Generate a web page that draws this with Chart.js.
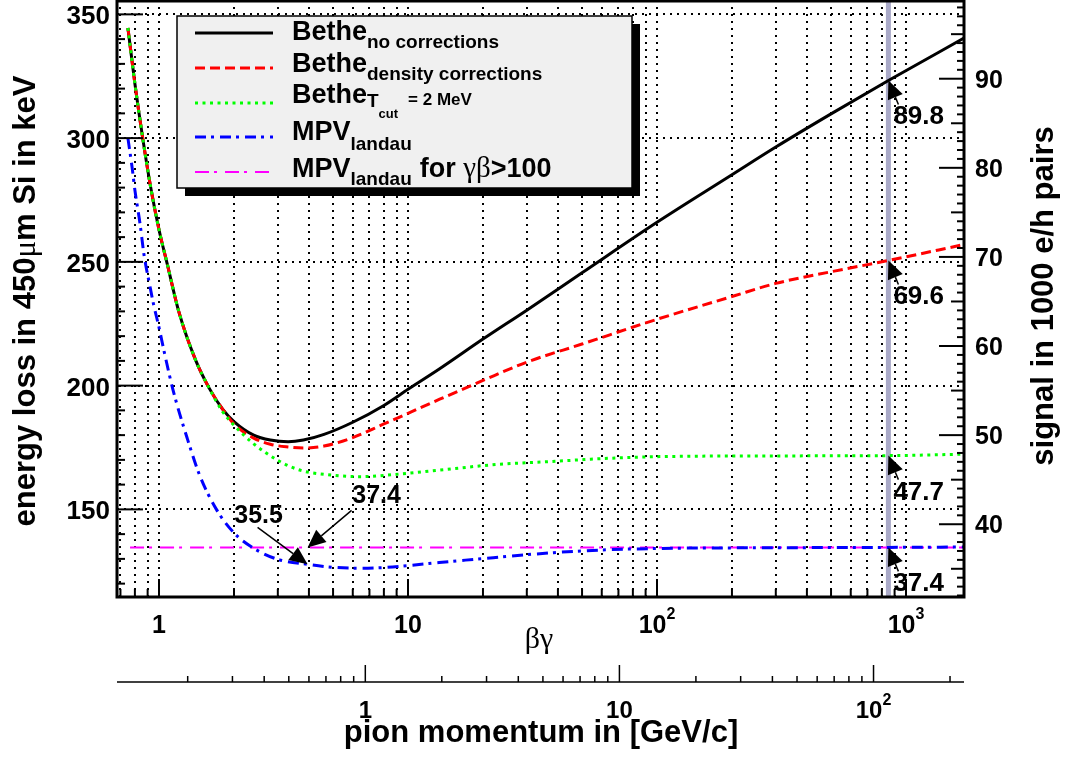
<!DOCTYPE html>
<html>
<head>
<meta charset="utf-8">
<title>Energy loss of pions in silicon</title>
<script src="https://cdn.jsdelivr.net/npm/chart.js@4.4.1/dist/chart.umd.min.js"></script>
<style>
  html, body { margin: 0; padding: 0; background: #fff; }
  #box { width: 1066px; height: 757px; }
</style>
</head>
<body>
<div id="box"><canvas id="dedx"></canvas></div>
<script>
// beta*gamma sample points and energy loss (keV) in 450 um of silicon
const bgBethe = [0.75, 0.8, 0.86, 0.93, 1.0, 1.08, 1.2, 1.4, 1.59, 1.8, 2.0, 2.4, 2.8, 3.3, 3.8, 4.6, 6.0, 8.0, 10, 13.4, 20, 30, 50, 100, 200, 300, 500, 850, 1710];
const betheNoCorr = [344.5, 322, 300, 279, 263, 249, 230, 210.5, 199, 190.5, 185.5, 180, 178, 177.3, 178, 180.3, 185.2, 192, 198.5, 206.8, 218.8, 230.5, 245.6, 266, 285.2, 296.4, 309.8, 323.28, 340.4];
const betheDensity = [344.5, 322, 300, 279, 263, 249, 230, 210.5, 199, 190.5, 184.5, 178.8, 176.3, 175.2, 174.8, 175.6, 179, 184.5, 188.8, 194.5, 202.1, 209.5, 216.8, 226.8, 236, 241.3, 246, 250.56, 257];

const bgTcut = [0.75, 0.8, 0.86, 0.93, 1.0, 1.08, 1.2, 1.4, 1.59, 1.8, 2.0, 2.4, 3.0, 3.7, 5.0, 6.4, 9.3, 15, 23, 37, 60, 100, 300, 850, 1710];
const betheTcut = [344.5, 322, 300, 279, 263, 249, 230, 210.5, 199, 189.5, 184, 176.5, 169.8, 165.8, 163.8, 163.2, 164.3, 166.4, 168.2, 169.3, 170.5, 171.3, 171.6, 171.72, 172.3];

const bgLandau = [0.75, 0.78, 0.8, 0.84, 0.87, 0.92, 0.95, 1.0, 1.05, 1.14, 1.3, 1.46, 1.7, 2.0, 2.4, 3.0, 3.95, 5.0, 6.5, 8.0, 10, 13, 17, 22, 37, 60, 100, 300, 850, 1710];
const mpvLandau = [300, 288, 279, 265, 253, 240, 233, 223.5, 213.5, 198, 178.5, 163.5, 150, 140.5, 134.3, 129.8, 127.8, 126.6, 126.2, 126.5, 127.3, 128.4, 129.5, 130.5, 132.4, 133.6, 134.2, 134.5, 134.64, 134.8];

const bgHigh = [0.765, 1710];
const mpvHigh = [134.64, 134.64];

// 120 GeV/c pion beam
const bgBeam = 850;
// signals (1000 e/h pairs) marked at the beam line, top to bottom
const beamSignals = [89.8, 69.6, 47.7, 37.4];
// landau minimum and plateau value near the minimum
const minBG = 3.95;
const minSignals = [35.5, 37.4];

const keVPerKPair = 3.6;
const X_RANGE = [0.678, 1710];
const Y_RANGE = [114.6, 355.4];
const P_RANGE = [0.1054, 227];
const yMajor = [150, 200, 250, 300, 350];
const y2Major = [40, 50, 60, 70, 80, 90];

const SANS = '"Liberation Sans", Arial, Helvetica, sans-serif';
const SERIF = '"Liberation Serif", "Times New Roman", serif';
const bold = (px) => 'bold ' + px + 'px ' + SANS;
const serif = (px) => px + 'px ' + SERIF;

const STYLES = {
  none:    { color: '#000000', width: 3, dash: [] },
  density: { color: '#ff0000', width: 3, dash: [10, 5] },
  tcut:    { color: '#00ff00', width: 3, dash: [3, 4.5] },
  landau:  { color: '#0000ff', width: 3, dash: [11, 5, 3, 6] },
  high:    { color: '#ff00ff', width: 2, dash: [14, 5, 3, 8] }
};

const pts = (xs, ys) => xs.map((v, i) => ({ x: v, y: ys[i] }));

function logTicks(min, max) {
  const out = [];
  for (let e = Math.floor(Math.log10(min)); e <= Math.ceil(Math.log10(max)); e++) {
    for (let k = 1; k <= 9; k++) {
      const v = k * Math.pow(10, e);
      if (v >= min && v <= max) out.push({ v, major: k === 1, e });
    }
  }
  return out;
}

// "10" with a raised exponent, centred on cx
function powLabel(ctx, e, cx, base, size, supSize, supRise) {
  if (e <= 1) {
    ctx.font = bold(size);
    ctx.textAlign = 'center';
    ctx.fillText(e === 0 ? '1' : '10', cx, base);
    return;
  }
  ctx.font = bold(size);
  const w1 = ctx.measureText('10').width;
  ctx.font = bold(supSize);
  const w2 = ctx.measureText(String(e)).width;
  const x0 = cx - (w1 + w2) / 2;
  ctx.textAlign = 'left';
  ctx.font = bold(size);
  ctx.fillText('10', x0, base);
  ctx.font = bold(supSize);
  ctx.fillText(String(e), x0 + w1, base - supRise);
}

function richText(ctx, x, parts) {
  ctx.textAlign = 'left';
  for (const [text, font, by, gap] of parts) {
    x += gap || 0;
    ctx.font = font;
    ctx.fillText(text, x, by);
    x += ctx.measureText(text).width;
  }
  return x;
}

function rotatedText(ctx, cx, cy, parts) {
  ctx.save();
  ctx.translate(cx, cy);
  ctx.rotate(-Math.PI / 2);
  let w = 0;
  for (const [t, f] of parts) { ctx.font = f; w += ctx.measureText(t).width; }
  let xx = -w / 2;
  ctx.textAlign = 'left';
  for (const [t, f] of parts) { ctx.font = f; ctx.fillText(t, xx, 0); xx += ctx.measureText(t).width; }
  ctx.restore();
}

function arrow(ctx, x0, y0, x1, y1) {
  const ang = Math.atan2(y1 - y0, x1 - x0);
  const c = Math.cos(ang), s = Math.sin(ang);
  const hl = 18, hw = 8;
  ctx.setLineDash([]);
  ctx.lineWidth = 1.5;
  ctx.beginPath();
  ctx.moveTo(x0, y0);
  ctx.lineTo(x1 - hl * c, y1 - hl * s);
  ctx.stroke();
  ctx.beginPath();
  ctx.moveTo(x1, y1);
  ctx.lineTo(x1 - hl * c + hw * s, y1 - hl * s - hw * c);
  ctx.lineTo(x1 - hl * c - hw * s, y1 - hl * s + hw * c);
  ctx.closePath();
  ctx.fill();
}

const rootFrame = {
  id: 'rootFrame',
  beforeDatasetsDraw(chart) {
    const { ctx, chartArea: a, scales: { x, y } } = chart;
    ctx.save();
    ctx.strokeStyle = '#000';
    ctx.lineWidth = 2;
    ctx.setLineDash([2, 5]);
    for (const t of logTicks(x.min, x.max)) {
      const px = Math.round(x.getPixelForValue(t.v));
      ctx.beginPath(); ctx.moveTo(px, a.bottom); ctx.lineTo(px, a.top); ctx.stroke();
    }
    for (const v of yMajor) {
      const py = Math.round(y.getPixelForValue(v));
      ctx.beginPath(); ctx.moveTo(a.left, py); ctx.lineTo(a.right, py); ctx.stroke();
    }
    ctx.restore();
  },
  afterDatasetsDraw(chart) {
    const { ctx, chartArea: a, scales: { x, y, y2, p } } = chart;
    ctx.save();
    ctx.setLineDash([]);
    ctx.strokeStyle = '#000';
    ctx.fillStyle = '#000';

    // frame
    ctx.lineWidth = 3;
    ctx.strokeRect(a.left, a.top, a.right - a.left, a.bottom - a.top);

    // left axis ticks
    ctx.lineWidth = 2;
    for (let v = 120; v <= 350; v += 10) {
      const py = y.getPixelForValue(v);
      const len = v % 50 === 0 ? 26 : 8;
      ctx.beginPath(); ctx.moveTo(a.left, py); ctx.lineTo(a.left + len, py); ctx.stroke();
    }
    ctx.font = bold(26);
    ctx.textAlign = 'right';
    for (const v of yMajor) ctx.fillText(String(v), 110, y.getPixelForValue(v) + 10);

    // right axis ticks (signal)
    for (let v = Math.ceil(y2.min); v <= y2.max; v++) {
      const py = y2.getPixelForValue(v);
      const len = v % 10 === 0 ? 25 : (v % 5 === 0 ? 13 : 7);
      ctx.beginPath(); ctx.moveTo(a.right, py); ctx.lineTo(a.right - len, py); ctx.stroke();
    }
    ctx.font = bold(25);
    ctx.textAlign = 'left';
    for (const v of y2Major) ctx.fillText(String(v), 975, y2.getPixelForValue(v) + 9);

    // bottom axis ticks (beta gamma)
    for (const t of logTicks(x.min, x.max)) {
      const px = x.getPixelForValue(t.v);
      const len = t.major ? 18 : 8;
      ctx.beginPath(); ctx.moveTo(px, a.bottom); ctx.lineTo(px, a.bottom - len); ctx.stroke();
      if (t.major) powLabel(ctx, t.e, px, 633, 25, 16, 14);
    }

    // pion momentum axis
    const yp = 682;
    ctx.lineWidth = 1.5;
    ctx.beginPath(); ctx.moveTo(a.left, yp); ctx.lineTo(a.right, yp); ctx.stroke();
    for (const t of logTicks(p.min, p.max)) {
      const px = p.getPixelForValue(t.v);
      const len = t.major ? 17 : 6;
      ctx.beginPath(); ctx.moveTo(px, yp); ctx.lineTo(px, yp - len); ctx.stroke();
      if (t.major && t.e >= 0) powLabel(ctx, t.e, px, 718, 24, 16, 13);
    }

    // axis titles
    ctx.font = serif(30);
    ctx.textAlign = 'center';
    ctx.fillText('\u03b2\u03b3', 539, 648);
    ctx.font = bold(31);
    ctx.fillText('pion momentum in [GeV/c]', 541, 742);
    rotatedText(ctx, 35, 301, [
      ['energy loss in 450', bold(31)],
      ['\u03bc', serif(31)],
      ['m Si in keV', bold(31)]
    ]);
    rotatedText(ctx, 1053, 296, [['signal in 1000 e/h pairs', bold(31)]]);
    ctx.restore();
  },
  afterDraw(chart) {
    const { ctx, scales: { x, y2 } } = chart;
    ctx.save();

    // legend box with shadow
    const L = { x: 177, y: 16, w: 455, h: 172 };
    ctx.fillStyle = '#000';
    ctx.fillRect(L.x + 8, L.y + 8, L.w, L.h);
    ctx.fillStyle = '#f0f0f0';
    ctx.fillRect(L.x, L.y, L.w, L.h);
    ctx.strokeStyle = '#000';
    ctx.lineWidth = 1.5;
    ctx.setLineDash([]);
    ctx.strokeRect(L.x, L.y, L.w, L.h);

    const rows = [
      { key: 'none', ly: 33 },
      { key: 'density', ly: 68 },
      { key: 'tcut', ly: 103 },
      { key: 'landau', ly: 137 },
      { key: 'high', ly: 172 }
    ];
    for (const r of rows) {
      const st = STYLES[r.key];
      ctx.strokeStyle = st.color;
      ctx.lineWidth = st.width;
      ctx.setLineDash(st.dash);
      ctx.beginPath(); ctx.moveTo(195, r.ly); ctx.lineTo(273, r.ly); ctx.stroke();
    }
    ctx.setLineDash([]);
    ctx.fillStyle = '#000';
    const tx = 292;
    richText(ctx, tx, [['Bethe', bold(27), 40], ['no corrections', bold(19), 48]]);
    richText(ctx, tx, [['Bethe', bold(27), 72], ['density corrections', bold(19), 80]]);
    richText(ctx, tx, [['Bethe', bold(27), 103], ['T', bold(19), 107], ['cut', bold(13), 118], ['= 2 MeV', bold(17), 105, 10]]);
    richText(ctx, tx, [['MPV', bold(27), 140], ['landau', bold(19), 150]]);
    richText(ctx, tx, [['MPV', bold(27), 177], ['landau', bold(19), 185], ['for ', bold(27), 177, 8],
      ['\u03b3\u03b2', serif(29), 177], ['>100', bold(27), 177]]);

    // values at the beam line
    ctx.strokeStyle = '#000';
    ctx.fillStyle = '#000';
    const bx = x.getPixelForValue(bgBeam);
    for (const s of beamSignals) {
      const py = y2.getPixelForValue(s);
      arrow(ctx, bx + 10, py + 24, bx, py);
      ctx.font = bold(26);
      ctx.textAlign = 'left';
      ctx.fillText(s.toFixed(1), bx + 5, py + 44);
    }

    // values near the landau minimum
    const mx = x.getPixelForValue(minBG);
    const pMin = y2.getPixelForValue(minSignals[0]);
    const pFlat = y2.getPixelForValue(minSignals[1]);
    arrow(ctx, mx - 50, pMin - 37, mx, pMin);
    arrow(ctx, mx + 44, pFlat - 37, mx, pFlat);
    ctx.font = bold(25);
    ctx.textAlign = 'center';
    ctx.fillText(minSignals[0].toFixed(1), mx - 49, pMin - 41);
    ctx.fillText(minSignals[1].toFixed(1), mx + 69, pFlat - 44);
    ctx.restore();
  }
};

const curve = (label, xs, ys, key, order) => ({
  label,
  data: pts(xs, ys),
  borderColor: STYLES[key].color,
  borderWidth: STYLES[key].width,
  borderDash: STYLES[key].dash,
  pointRadius: 0,
  fill: false,
  cubicInterpolationMode: 'monotone',
  order
});

new Chart(document.getElementById('dedx'), {
  type: 'line',
  data: {
    datasets: [
      {
        label: 'beam',
        data: [{ x: bgBeam, y: Y_RANGE[0] }, { x: bgBeam, y: Y_RANGE[1] }],
        borderColor: 'rgb(170, 170, 200)',
        borderWidth: 5,
        pointRadius: 0,
        order: 10
      },
      curve('Bethe no corrections', bgBethe, betheNoCorr, 'none', 5),
      curve('Bethe density corrections', bgBethe, betheDensity, 'density', 4),
      curve('Bethe Tcut = 2 MeV', bgTcut, betheTcut, 'tcut', 3),
      curve('MPV landau for bg>100', bgHigh, mpvHigh, 'high', 2),
      curve('MPV landau', bgLandau, mpvLandau, 'landau', 1)
    ]
  },
  options: {
    responsive: true,
    maintainAspectRatio: false,
    animation: false,
    layout: { padding: { left: 117, right: 102, top: 1, bottom: 160 } },
    plugins: { legend: { display: false }, tooltip: { enabled: false } },
    scales: {
      x: { type: 'logarithmic', min: X_RANGE[0], max: X_RANGE[1], display: false },
      y: { type: 'linear', min: Y_RANGE[0], max: Y_RANGE[1], display: false },
      y2: { type: 'linear', position: 'right', min: Y_RANGE[0] / keVPerKPair, max: Y_RANGE[1] / keVPerKPair, display: false },
      p: { type: 'logarithmic', axis: 'x', min: P_RANGE[0], max: P_RANGE[1], display: false }
    }
  },
  plugins: [rootFrame]
});
</script>
</body>
</html>
